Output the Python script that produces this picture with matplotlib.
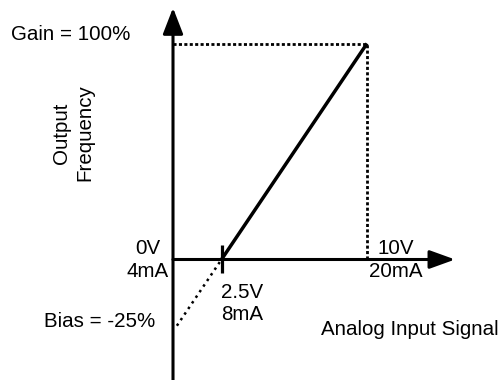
import matplotlib
matplotlib.use("Agg")
import matplotlib.pyplot as plt

# Input signal range (volts) and output frequency (% of maximum)
v_min, v_max = 0.0, 10.0
v_zero = 2.5          # input at which the output starts from 0 %
gain = 100.0          # output at full-scale input, %
bias = -25.0          # bias setting
v_ext = 0.2           # where the dotted extension of the curve stops

tick_values = [v_min, v_zero, v_max]
tick_labels = ["0V\n4mA", "2.5V\n8mA", "10V\n20mA"]
gain_label = f"Gain = {gain:.0f}%"
bias_label = f"Bias = {bias:.0f}%"
x_title = "Analog Input Signal"
y_title = "Output\nFrequency"


def output(v):
    return gain * (v - v_zero) / (v_max - v_zero)


plt.rcParams["font.family"] = ["Liberation Sans", "DejaVu Sans"]
FS = 14.8

fig = plt.figure(figsize=(5.04, 3.80), dpi=100)
ax = fig.add_axes([0, 0, 1, 1])
ax.set_xlim(-8.918, 17.062)
ax.set_ylim(-55.79, 120.14)
ax.axis("off")

dotted = dict(color="black", lw=2.0, ls=(0, (1.1, 0.85)), dash_capstyle="butt")

# guide lines to the full-scale point
ax.plot([v_min, v_max], [gain, gain], **dotted, zorder=2)
ax.plot([v_max, v_max], [0, gain], **dotted, zorder=2)

# dotted extension of the curve below zero output
ax.plot([v_ext, v_zero], [output(v_ext), output(v_zero)], color="black",
        lw=1.8, ls=(0, (1.0, 1.7)), zorder=2)

# output curve
ax.plot([v_zero, v_max], [output(v_zero), output(v_max)], color="black",
        lw=2.5, solid_capstyle="butt", zorder=3)

# axes with arrow heads
y_lo = ax.get_ylim()[0]
ax.annotate("", xy=(v_min, 116.5), xytext=(v_min, y_lo),
            arrowprops=dict(arrowstyle="-|>,head_length=16,head_width=6.2",
                            mutation_scale=1, lw=2.2, color="black",
                            shrinkA=0, shrinkB=0), zorder=4)
ax.annotate("", xy=(14.54, 0), xytext=(v_min, 0),
            arrowprops=dict(arrowstyle="-|>,head_length=15.5,head_width=5.6",
                            mutation_scale=1, lw=2.2, color="black",
                            shrinkA=0, shrinkB=0), zorder=4)

# tick at the zero-output input
ax.plot([v_zero], [0], marker="|", ms=20, mew=2.3, color="black", zorder=5)

# tick labels (offsets locate the baseline of the second line)
offsets = [(-25.5, -17.5), (20.5, -61.0), (29.0, -17.5)]
for v, lab, off in zip(tick_values, tick_labels, offsets):
    ax.annotate(lab, xy=(v, 0), xytext=off, textcoords="offset pixels",
                ha="center", va="baseline", ma="center", fontsize=FS,
                linespacing=1.25)

ax.annotate(gain_label, xy=(v_min, gain), xytext=(-102, 3.5),
            textcoords="offset pixels", ha="center", va="baseline",
            fontsize=FS)
ax.annotate(bias_label, xy=(v_min, 0), xytext=(-73, -67.5),
            textcoords="offset pixels", ha="center", va="baseline",
            fontsize=FS)

ax.text(12.22, -34.95, x_title, ha="center", va="baseline", fontsize=FS)
ax.text(-5.15, 58.6, y_title, rotation=90, ha="center", va="center",
        ma="center", fontsize=FS, linespacing=1.25)

fig.savefig("out.png", dpi=100)
